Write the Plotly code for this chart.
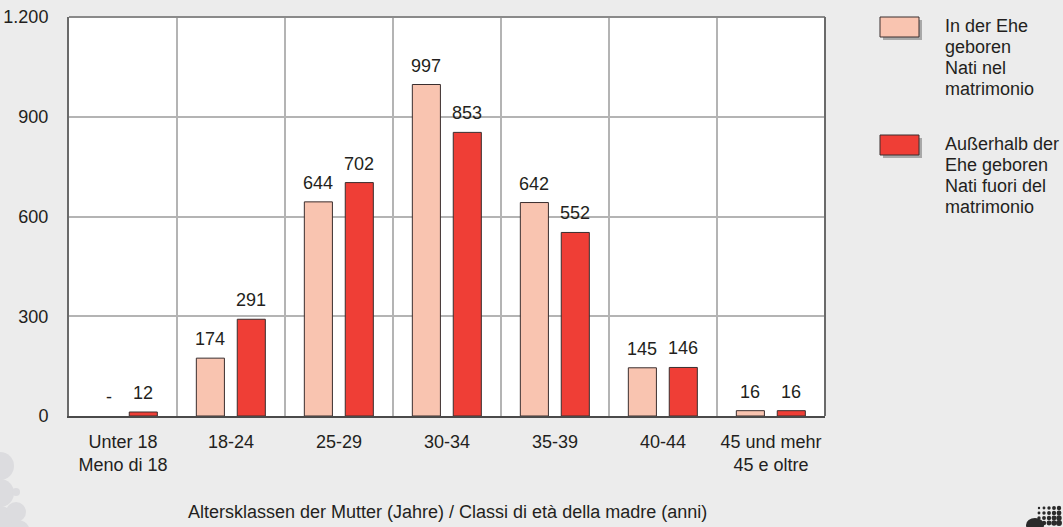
import plotly.graph_objects as go

# Daten
categories = ["Unter 18<br>Meno di 18", "18-24", "25-29", "30-34", "35-39", "40-44", "45 und mehr<br>45 e oltre"]
in_ehe = [None, 174, 644, 997, 642, 145, 16]
ausser_ehe = [12, 291, 702, 853, 552, 146, 16]
in_ehe_text = ["-", "174", "644", "997", "642", "145", "16"]
ausser_ehe_text = ["12", "291", "702", "853", "552", "146", "16"]
y_ticks = [0, 300, 600, 900, 1200]
x_title = "Altersklassen der Mutter (Jahre) / Classi di età della madre (anni)"

legend_lines = [
    ["In der Ehe", "geboren", "Nati nel", "matrimonio"],
    ["Außerhalb der", "Ehe geboren", "Nati fuori del", "matrimonio"],
]

PINK = "#f9c4b0"
RED = "#ef3e36"
EDGE = "#3a2e2e"
FAMILY = "Liberation Sans, Arial, sans-serif"
FONT = dict(family=FAMILY, size=18, color="#231f20")

# Pixelgeometrie des Plotbereichs
L, T, PW, PH = 69, 17, 756, 399
BAR_W = 0.26
OFFS = [-0.321, 0.058]


def px(xp):
    return (xp - L) / PW


def py(yp):
    return (T + PH - yp) / PH


x = list(range(len(categories)))

fig = go.Figure()

series = [(in_ehe, in_ehe_text, PINK, "In der Ehe geboren"),
          (ausser_ehe, ausser_ehe_text, RED, "Außerhalb der Ehe geboren")]

for (vals, labels, col, name), off in zip(series, OFFS):
    fig.add_trace(go.Bar(
        x=x, y=vals, name=name, width=BAR_W, offset=off,
        marker=dict(color=col, line=dict(color=EDGE, width=1)),
    ))
    # Werte über den Balken
    for xi, v, t in zip(x, vals, labels):
        fig.add_annotation(x=xi + off + BAR_W / 2, y=v or 0, text=t, showarrow=False,
                           yanchor="bottom", yshift=7, font=FONT,
                           xshift=7 if v is None else 0)

fig.update_layout(
    width=1063, height=527,
    margin=dict(l=L, r=1063 - L - PW, t=T, b=527 - T - PH, autoexpand=False),
    paper_bgcolor="#ececec",
    plot_bgcolor="white",
    barmode="overlay",
    showlegend=False,
    font=FONT,
    separators=",.",
)

fig.update_xaxes(
    range=[-0.5, len(categories) - 0.5],
    tickmode="array", tickvals=x, ticktext=categories,
    showgrid=False, ticks="", ticklabelstandoff=8,
    minor=dict(tickmode="array", tickvals=[i + 0.5 for i in x[:-1]],
               showgrid=True, gridcolor="#b4b4b4", gridwidth=1.5, ticks=""),
    showline=True, linecolor="#4a4a4a", linewidth=2,
    zeroline=False, automargin=False,
)
fig.update_yaxes(
    range=[0, 1200], tickmode="array", tickvals=y_ticks,
    tickformat=",d",
    showgrid=True, gridcolor="#b4b4b4", gridwidth=1.5,
    showline=True, linecolor="#6a6a6a", linewidth=2,
    ticks="", ticklabelstandoff=15, zeroline=False, automargin=False,
)

# Achsentitel
fig.add_annotation(xref="paper", yref="paper", x=0.5, y=py(512), text=x_title,
                   showarrow=False, xanchor="center", yanchor="middle", font=FONT)

# Rahmen oben/rechts
fig.add_shape(type="line", xref="paper", yref="paper", x0=0, x1=1, y0=1, y1=1,
              line=dict(color="#8a8a8a", width=2))
fig.add_shape(type="line", xref="paper", yref="paper", x0=1, x1=1, y0=0, y1=1,
              line=dict(color="#6a6a6a", width=2))

# Legende
colors = [PINK, RED]
box_tops = [17, 135]
for lines, col, top in zip(legend_lines, colors, box_tops):
    fig.add_shape(type="rect", xref="paper", yref="paper",
                  x0=px(883), x1=px(922), y0=py(top + 23), y1=py(top + 3),
                  line=dict(width=0), fillcolor="#a8a8a8", layer="below")
    fig.add_shape(type="rect", xref="paper", yref="paper",
                  x0=px(880), x1=px(919), y0=py(top + 20), y1=py(top),
                  line=dict(color=EDGE, width=1), fillcolor=col)
    for i, line in enumerate(lines):
        fig.add_annotation(xref="paper", yref="paper", x=px(943), y=py(top + 9 + 21 * i),
                           text=line, showarrow=False, xanchor="left", yanchor="middle",
                           align="left", font=FONT)

# Dekoration unten links
dots = [(0, 466, 14), (0, 493, 14), (0, 520, 14), (16, 492, 4), (16, 512, 10), (18, 532, 12)]
for cx, cy, r in dots:
    fig.add_shape(type="circle", xref="paper", yref="paper",
                  x0=px(cx - r), x1=px(cx + r), y0=py(cy + r), y1=py(cy - r),
                  line=dict(width=0), fillcolor="#dcdcdf")

# Logo unten rechts
for ci, cx in enumerate(range(1039, 1064, 5)):
    for ri, cy in enumerate(range(508, 528, 5)):
        r = 1.2 + 0.5 * (ri + ci) / 2
        fig.add_shape(type="circle", xref="paper", yref="paper",
                      x0=px(cx - r), x1=px(cx + r), y0=py(cy + r), y1=py(cy - r),
                      line=dict(width=0), fillcolor="#2a2a2a")
fig.add_shape(type="circle", xref="paper", yref="paper",
              x0=px(1026), x1=px(1044), y0=py(532), y1=py(518),
              line=dict(width=0), fillcolor="#2a2a2a")

fig.write_html("out.html", config=dict(displayModeBar=False),
               post_script="document.body.style.margin='0';")
